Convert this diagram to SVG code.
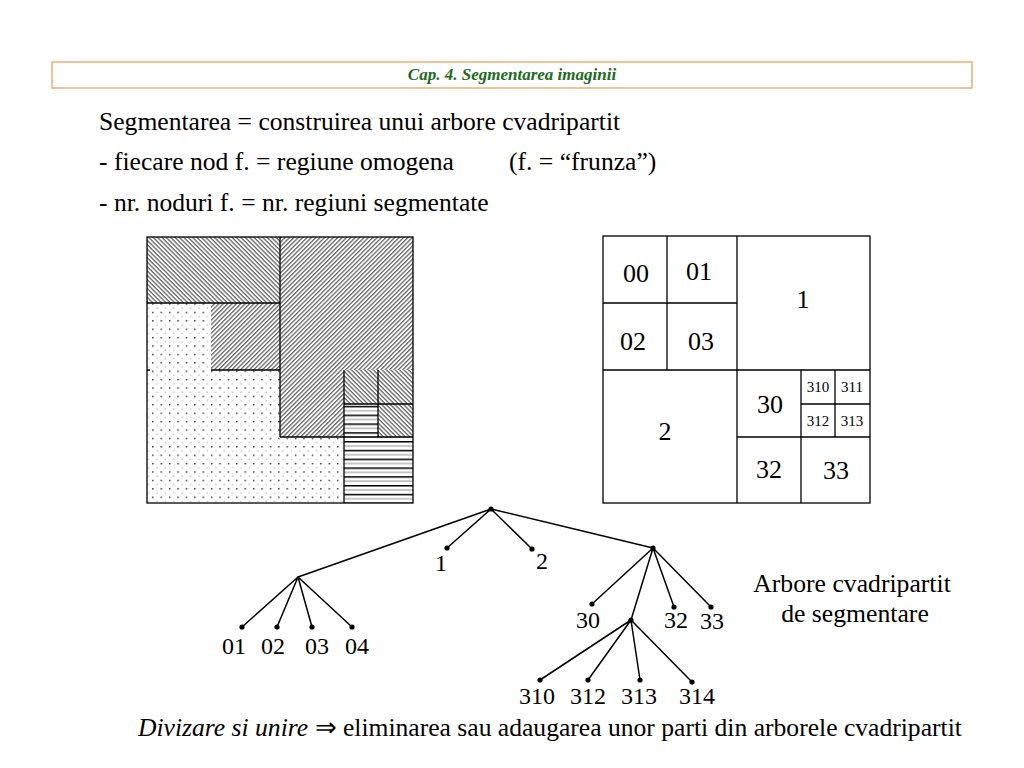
<svg xmlns="http://www.w3.org/2000/svg" width="1024" height="768" viewBox="0 0 1024 768">
<defs>
<style>
.t{font-family:"Liberation Serif","Times New Roman",serif;font-size:25.6px;fill:#000}
.lbl{font-family:"Liberation Serif","Times New Roman",serif;font-size:24px;fill:#000;text-anchor:middle}
.g{font-size:26px}
.cap{font-size:25.7px}
.sm{font-family:"Liberation Serif","Times New Roman",serif;font-size:15px;fill:#000;text-anchor:middle}
.ln{stroke:#000;stroke-width:1.3;fill:none}
.edge{stroke:#000;stroke-width:1.5;fill:none}
.dot{fill:#000}
</style>
<pattern id="hb" width="3.1" height="3.1" patternUnits="userSpaceOnUse" patternTransform="rotate(45)"><rect width="3.1" height="3.1" fill="#fff"/><rect width="3.1" height="1.3" fill="#666"/></pattern>
<pattern id="hf" width="3.1" height="3.1" patternUnits="userSpaceOnUse" patternTransform="rotate(-45)"><rect width="3.1" height="3.1" fill="#fff"/><rect width="3.1" height="1.3" fill="#666"/></pattern>
<pattern id="dots" width="8.4" height="8.4" patternUnits="userSpaceOnUse"><rect width="8.4" height="8.4" fill="#fff"/><rect x="1" y="1" width="1.3" height="1.3" fill="#000"/><rect x="5.2" y="5.2" width="1.2" height="1.2" fill="#aaa"/></pattern>
<pattern id="hs" width="8" height="8.8" patternUnits="userSpaceOnUse" y="1"><rect width="8" height="8.8" fill="#fff"/><rect y="0" width="8" height="1.5" fill="#000"/><rect y="4.4" width="8" height="1.1" fill="#999"/></pattern>
</defs>
<rect width="1024" height="768" fill="#fff"/>

<g id="header">
<rect x="52" y="62" width="920" height="26" fill="#fff" stroke="#f0a060" stroke-width="1.3"/>
<text x="512" y="80" text-anchor="middle" font-family="Liberation Serif, serif" font-size="17" font-style="italic" font-weight="bold" fill="#1b6b1b">Cap. 4. Segmentarea imaginii</text>
</g>

<g id="intro">
<text class="t" x="99" y="130">Segmentarea = construirea unui arbore cvadripartit</text>
<text class="t" x="99" y="170">- fiecare nod f. = regiune omogena</text>
<text class="t" x="509" y="170">(f. = “frunza”)</text>
<text class="t" x="99" y="211">- nr. noduri f. = nr. regiuni segmentate</text>
</g>

<g id="segmented-image">
<rect x="147" y="237" width="133" height="66" fill="url(#hb)"/>
<rect x="280" y="237" width="133" height="133" fill="url(#hf)"/>
<rect x="280" y="370" width="64" height="67" fill="url(#hf)"/>
<rect x="147" y="303" width="64" height="67" fill="url(#dots)"/>
<rect x="211" y="303" width="69" height="67" fill="url(#hf)"/>
<rect x="147" y="370" width="133" height="133" fill="url(#dots)"/>
<rect x="280" y="437" width="64" height="66" fill="url(#dots)"/>
<rect x="344" y="370" width="69" height="34" fill="url(#hb)"/>
<rect x="344" y="404" width="34" height="33" fill="url(#hs)"/>
<rect x="378" y="404" width="35" height="33" fill="url(#hb)"/>
<rect x="344" y="437" width="69" height="66" fill="url(#hs)"/>
<rect class="ln" x="147" y="237" width="266" height="266"/>
<path class="ln" d="M280 237V437M147 303H280M211 370H280M147 370H150M280 437H413M344 370V503M378 370V437M344 404H413"/>
</g>

<g id="quadtree-grid">
<rect class="ln" x="603" y="236" width="267" height="267" fill="#fff"/>
<path class="ln" d="M737 236V503M603 370H870M667 236V370M603 303H737M801 370V503M737 437H870M835 370V437M801 404H870"/>
<text class="lbl g" x="636" y="282">00</text>
<text class="lbl g" x="699" y="280">01</text>
<text class="lbl g" x="803" y="308">1</text>
<text class="lbl g" x="633" y="350">02</text>
<text class="lbl g" x="701" y="350">03</text>
<text class="lbl g" x="665" y="440">2</text>
<text class="lbl g" x="770" y="413">30</text>
<text class="sm" x="818" y="392">310</text>
<text class="sm" x="852" y="392">311</text>
<text class="sm" x="818" y="426">312</text>
<text class="sm" x="852" y="426">313</text>
<text class="lbl g" x="769" y="478">32</text>
<text class="lbl g" x="836" y="479">33</text>
</g>

<g id="connectors">
<path class="edge" d="M491 509L298 577M491 509L447 548M491 509L532 549M491 509L653 548"/>
<path class="edge" d="M298 577L242 627M298 577L277 627M298 577L312 627M298 577L352 627"/>
<path class="edge" d="M653 548L592 604M653 548L631 620M653 548L674 607M653 548L711 607"/>
<path class="edge" d="M631 620L540 680M631 620L588 680M631 620L640 680M631 620L692 682"/>
</g>

<g id="node-root"><circle class="dot" cx="491" cy="509" r="2.6"/></g>
<g id="node-0"><circle class="dot" cx="298" cy="577" r="1"/></g>
<g id="node-1"><circle class="dot" cx="447" cy="548" r="2.6"/><text class="lbl" x="441" y="571">1</text></g>
<g id="node-2"><circle class="dot" cx="532" cy="549" r="2.6"/><text class="lbl" x="542" y="569">2</text></g>
<g id="node-3"><circle class="dot" cx="653" cy="548" r="2.6"/></g>
<g id="node-01"><circle class="dot" cx="242" cy="627" r="2.6"/><text class="lbl" x="234" y="654">01</text></g>
<g id="node-02"><circle class="dot" cx="277" cy="627" r="2.6"/><text class="lbl" x="273" y="654">02</text></g>
<g id="node-03"><circle class="dot" cx="312" cy="627" r="2.6"/><text class="lbl" x="317" y="654">03</text></g>
<g id="node-04"><circle class="dot" cx="352" cy="627" r="2.6"/><text class="lbl" x="357" y="654">04</text></g>
<g id="node-30"><circle class="dot" cx="592" cy="604" r="2.6"/><text class="lbl" x="588" y="628">30</text></g>
<g id="node-31"><circle class="dot" cx="631" cy="620" r="2.6"/></g>
<g id="node-32"><circle class="dot" cx="674" cy="607" r="2.6"/><text class="lbl" x="676" y="628">32</text></g>
<g id="node-33"><circle class="dot" cx="711" cy="607" r="2.6"/><text class="lbl" x="712" y="629">33</text></g>
<g id="node-310"><circle class="dot" cx="540" cy="680" r="2.6"/><text class="lbl" x="537" y="704">310</text></g>
<g id="node-312"><circle class="dot" cx="588" cy="680" r="2.6"/><text class="lbl" x="588" y="704">312</text></g>
<g id="node-313"><circle class="dot" cx="640" cy="680" r="2.6"/><text class="lbl" x="639" y="704">313</text></g>
<g id="node-314"><circle class="dot" cx="692" cy="682" r="2.6"/><text class="lbl" x="697" y="704">314</text></g>

<g id="caption">
<text class="lbl cap" x="852" y="592">Arbore cvadripartit</text>
<text class="lbl cap" x="855" y="622">de segmentare</text>
</g>

<g id="footer">
<text class="t" x="138" y="736"><tspan font-style="italic">Divizare si unire</tspan> ⇒ eliminarea sau adaugarea unor parti din arborele cvadripartit</text>
</g>
</svg>
